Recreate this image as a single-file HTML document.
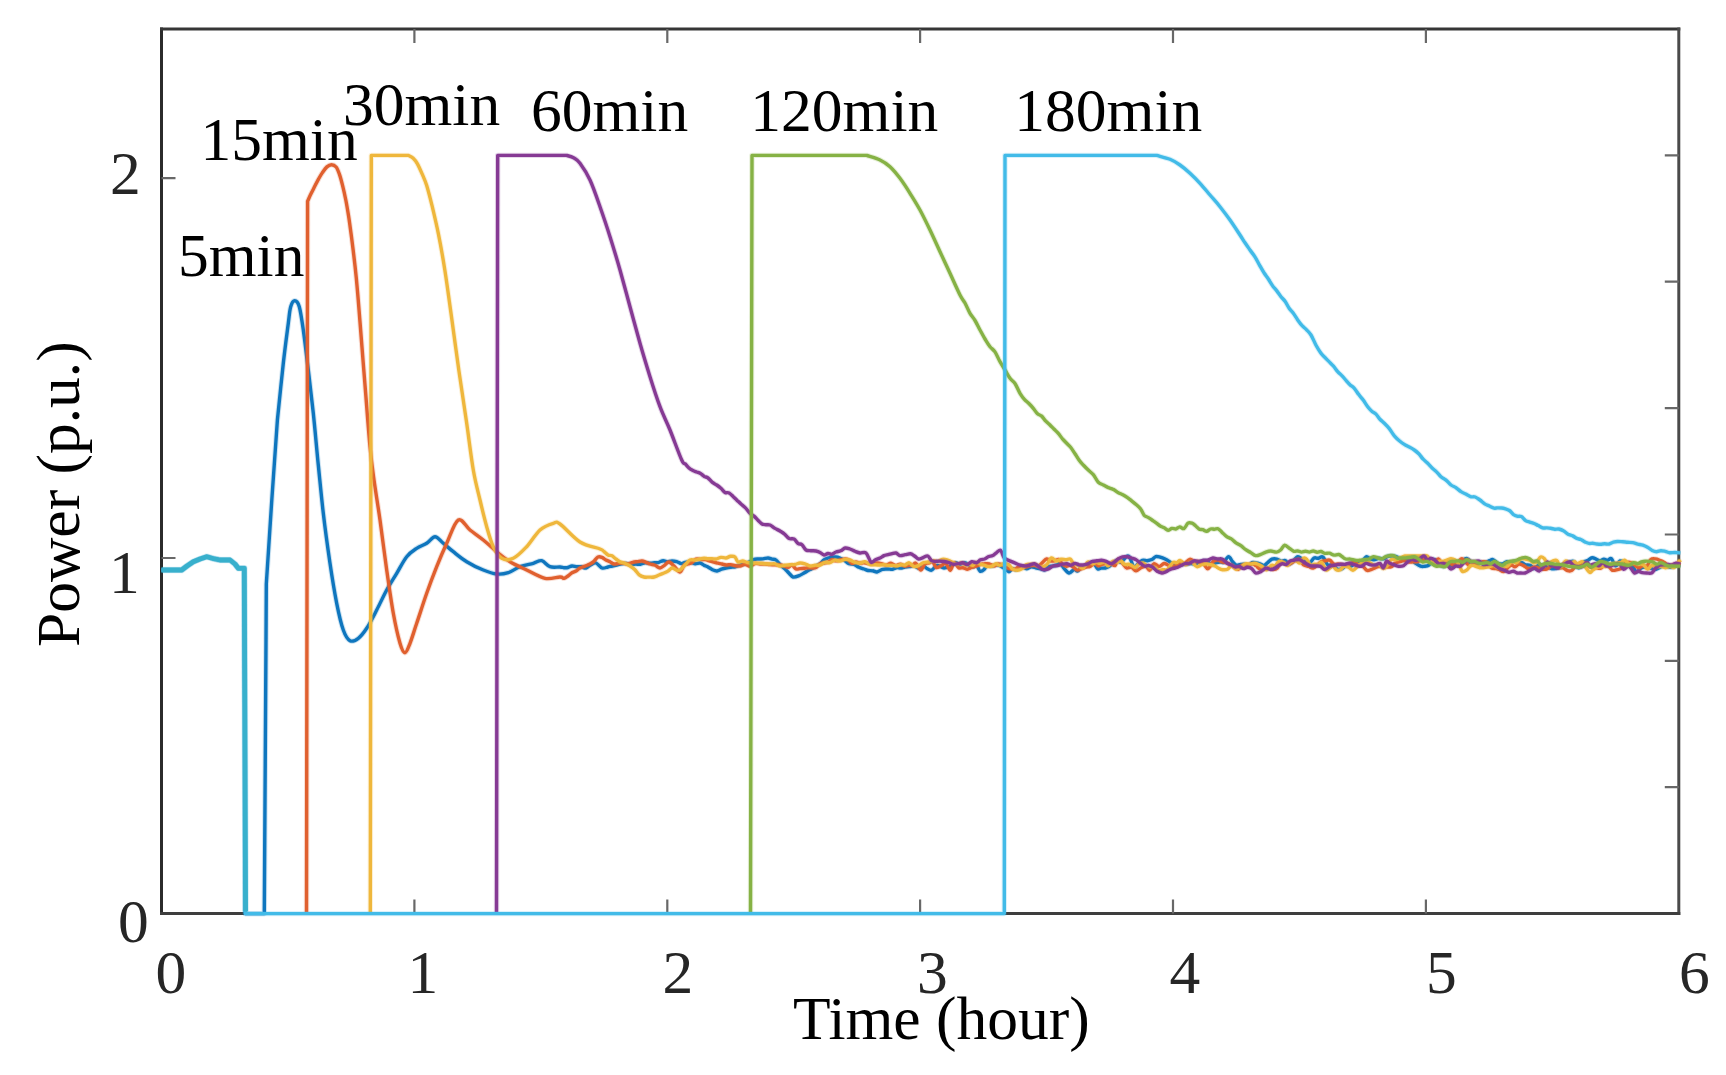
<!DOCTYPE html>
<html lang="en"><head><meta charset="utf-8"><title>Power (p.u.) vs Time (hour)</title>
<style>html,body{margin:0;padding:0;background:#fff;overflow:hidden}svg{display:block}text{font-family:"Liberation Serif",serif;font-size:61.5px}.tk{fill:#262626}.an{fill:#000}</style></head><body>
<svg width="1726" height="1075" viewBox="0 0 1726 1075">
<rect width="1726" height="1075" fill="#fff"/>
<path d="M161.5 27.5 V915.1" stroke="#2b2b2b" stroke-width="3" fill="none"/>
<path d="M160.0 29.0 H1680.3" stroke="#363636" stroke-width="3" fill="none"/>
<path d="M1678.8 27.5 V915.1" stroke="#4a4a4a" stroke-width="3" fill="none"/>
<path d="M160.0 913.6 H1680.3" stroke="#3e3e3e" stroke-width="3" fill="none"/>
<path d="M414.4 913.6 v-14 M414.4 29.0 v14 M667.3 913.6 v-14 M667.3 29.0 v14 M920.1 913.6 v-14 M920.1 29.0 v14 M1173.0 913.6 v-14 M1173.0 29.0 v14 M1425.9 913.6 v-14 M1425.9 29.0 v14 M1678.8 787.2 h-14 M1678.8 660.9 h-14 M1678.8 534.5 h-14 M1678.8 408.1 h-14 M1678.8 281.7 h-14 M1678.8 155.4 h-14 M161.5 558 h14 M161.5 178.2 h14" fill="none" stroke="#686868" stroke-width="2.2"/>
<g fill="none" stroke-linejoin="round">
<g stroke="#0f76be"><defs><path id="c1" d="M161.5 570.0 L181.7 570.0 L187.0 566.0 L193.3 561.7 L200.0 559.0 L206.7 556.7 L213.0 558.5 L220.0 560.0 L230.0 560.0 L235.0 564.0 L238.3 568.3 L244.3 568.3 L245.3 913.6 L264.3 913.6 L266.0 640.0 L266.3 584.0 L271.8 500.0 L277.4 420.0 C278.4 410.6 281.5 379.4 283.3 363.3 C285.1 347.2 287.1 332.7 288.3 323.3 C289.5 313.9 289.6 310.5 290.7 306.7 C291.8 302.9 293.3 300.7 294.7 300.7 C296.1 300.7 297.9 301.8 299.3 306.7 C300.7 311.6 301.8 319.4 303.3 330.0 C304.8 340.6 306.6 356.1 308.3 370.0 C310.0 383.9 311.6 397.5 313.3 413.3 C315.0 429.1 316.6 448.3 318.3 465.0 C320.0 481.7 321.4 496.9 323.3 513.3 C325.2 529.7 327.8 548.3 330.0 563.3 C332.2 578.3 334.5 592.2 336.7 603.3 C338.9 614.4 341.1 623.8 343.3 630.0 C345.5 636.2 347.5 639.3 350.0 640.7 C352.5 642.1 355.5 640.4 358.3 638.3 C361.1 636.2 363.6 633.0 366.7 628.3 C369.8 623.6 373.4 616.4 376.7 610.0 C380.0 603.6 383.4 596.1 386.7 590.0 C390.0 583.9 393.4 578.8 396.7 573.3 C400.0 567.8 403.4 560.9 406.7 556.7 C410.0 552.5 413.4 550.5 416.7 548.3 C420.0 546.1 423.6 545.2 426.7 543.3 C429.8 541.4 432.2 536.7 435.0 536.7 C437.8 536.7 440.2 540.8 443.3 543.3 C446.4 545.8 449.4 548.6 453.3 551.7 C457.2 554.8 461.7 558.7 466.7 561.7 C471.7 564.8 478.3 568.0 483.3 570.0 C488.3 572.0 492.5 573.5 496.7 574.0 C500.9 574.5 504.4 573.9 508.3 572.7 C512.2 571.5 515.8 568.3 520.0 566.7 C524.2 565.1 529.7 564.3 533.3 563.3 C536.9 562.3 538.9 560.1 541.7 560.7 C544.5 561.3 547.0 565.7 550.0 566.7 C553.0 567.8 557.7 566.8 560.0 567.0 C562.3 567.2 562.7 567.6 564.0 567.7 C565.3 567.8 566.7 567.8 568.0 567.5 C569.3 567.2 570.5 566.1 572.0 566.0 C573.5 565.9 575.2 566.6 576.7 566.7 C578.2 566.8 579.8 566.5 581.3 566.7 C582.8 566.9 584.4 568.4 586.0 568.0 C587.6 567.6 589.3 565.4 591.0 564.6 C592.7 563.8 594.2 562.4 596.0 563.0 C597.8 563.6 600.0 567.3 602.0 568.0 C604.0 568.7 606.3 567.3 608.0 567.0 C609.7 566.7 610.9 566.3 612.4 566.0 C613.9 565.7 615.2 565.4 616.7 565.0 C618.2 564.6 619.9 564.2 621.5 563.9 C623.1 563.6 624.6 563.3 626.2 563.4 C627.8 563.5 629.4 564.3 631.0 564.4 C632.6 564.5 634.1 564.1 635.7 564.1 C637.3 564.1 638.9 564.4 640.5 564.2 C642.1 564.0 643.6 562.9 645.2 562.8 C646.8 562.6 648.5 563.3 650.0 563.3 C651.5 563.3 652.9 563.0 654.4 562.8 C655.9 562.6 657.3 562.6 658.8 562.3 C660.3 561.9 661.7 560.8 663.2 560.7 C664.7 560.6 666.1 561.9 667.6 561.9 C669.1 561.9 670.5 561.0 672.0 561.0 C673.5 561.0 675.2 561.2 676.7 561.6 C678.2 562.0 679.8 563.5 681.3 563.6 C682.8 563.7 684.4 562.4 686.0 562.2 C687.6 562.0 689.2 562.0 690.7 562.2 C692.2 562.5 693.8 563.6 695.3 563.7 C696.8 563.8 698.5 562.8 700.0 563.0 C701.5 563.2 702.7 564.5 704.0 565.2 C705.3 565.9 706.6 566.2 708.0 567.0 C709.4 567.8 711.0 569.0 712.5 569.7 C714.0 570.4 715.5 571.1 717.0 571.0 C718.5 570.9 720.0 569.7 721.5 569.2 C723.0 568.7 724.5 568.3 726.0 568.0 C727.5 567.7 729.2 567.4 730.7 567.2 C732.2 567.0 733.8 567.2 735.3 566.8 C736.8 566.4 738.5 565.5 740.0 565.0 C741.5 564.5 743.0 564.6 744.5 564.1 C746.0 563.6 747.5 562.9 749.0 562.1 C750.5 561.4 752.0 560.1 753.5 559.6 C755.0 559.1 756.4 559.1 758.0 559.0 C759.6 558.9 761.3 559.1 763.0 558.9 C764.7 558.7 766.5 558.0 768.0 558.0 C769.5 558.0 770.7 558.8 772.0 559.1 C773.3 559.4 774.5 558.9 776.0 560.0 C777.5 561.1 779.3 563.9 781.0 565.6 C782.7 567.3 784.6 568.6 786.0 570.0 C787.4 571.4 788.3 572.5 789.5 573.7 C790.7 574.9 791.5 576.6 793.0 577.0 C794.5 577.4 796.7 576.6 798.5 575.9 C800.3 575.2 802.4 573.9 804.0 573.0 C805.6 572.1 806.7 571.4 808.0 570.6 C809.3 569.9 810.7 569.3 812.0 568.5 C813.3 567.7 814.7 566.8 816.0 566.0 C817.3 565.2 818.7 564.9 820.0 563.9 C821.3 562.9 822.7 560.8 824.0 559.8 C825.3 558.8 826.7 558.4 828.0 558.0 C829.3 557.6 830.7 557.4 832.0 557.2 C833.3 557.0 834.7 556.9 836.0 557.0 C837.3 557.1 838.7 557.6 840.0 558.1 C841.3 558.6 842.5 559.0 844.0 560.0 C845.5 561.0 847.3 563.1 849.0 563.8 C850.7 564.5 852.3 563.8 854.0 564.4 C855.7 565.0 857.3 566.5 859.0 567.3 C860.7 568.1 862.5 568.5 864.0 569.0 C865.5 569.5 866.8 570.2 868.3 570.5 C869.8 570.8 871.2 570.5 872.7 570.8 C874.2 571.0 875.4 572.2 877.0 572.0 C878.6 571.8 880.7 569.8 882.5 569.3 C884.3 568.8 886.4 569.0 888.0 569.0 C889.6 569.0 890.8 569.5 892.2 569.3 C893.6 569.1 895.1 567.9 896.5 567.7 C897.9 567.5 899.4 568.2 900.8 568.1 C902.2 568.0 903.6 567.2 905.0 567.0 C906.4 566.8 907.7 566.8 909.2 566.6 C910.8 566.4 912.7 565.6 914.3 565.9 C915.9 566.2 917.2 568.2 918.7 568.2 C920.2 568.2 921.7 565.8 923.1 565.8 C924.5 565.8 925.5 567.7 926.9 568.4 C928.3 569.1 929.9 570.7 931.5 570.2 C933.1 569.7 935.2 566.1 936.7 565.5 C938.2 564.9 939.1 565.9 940.2 566.3 C941.3 566.7 942.4 567.7 943.5 567.9 C944.6 568.1 945.4 567.7 946.7 567.3 C948.1 566.9 950.1 566.3 951.6 565.5 C953.1 564.7 954.5 562.8 955.8 562.6 C957.1 562.4 958.0 564.5 959.5 564.5 C961.0 564.5 963.1 562.7 964.5 562.7 C965.9 562.7 966.7 563.7 968.1 564.4 C969.5 565.1 971.3 566.6 972.8 566.8 C974.2 567.0 975.6 565.0 976.8 565.7 C978.0 566.4 978.8 570.6 980.0 571.2 C981.2 571.8 982.9 570.6 984.1 569.5 C985.3 568.4 986.2 565.1 987.4 564.6 C988.6 564.1 989.6 566.3 991.1 566.3 C992.6 566.3 994.8 564.9 996.3 564.8 C997.8 564.7 998.6 565.1 1000.0 565.7 C1001.4 566.4 1003.3 567.7 1004.8 568.7 C1006.3 569.7 1007.6 571.8 1008.9 571.8 C1010.1 571.8 1011.1 569.1 1012.3 568.7 C1013.5 568.4 1014.8 570.1 1016.3 569.7 C1017.8 569.3 1019.8 566.7 1021.5 566.5 C1023.2 566.3 1024.8 568.7 1026.5 568.7 C1028.2 568.7 1029.8 566.8 1031.5 566.7 C1033.2 566.6 1035.0 567.8 1036.7 568.2 C1038.4 568.6 1040.2 568.7 1041.5 569.0 C1042.8 569.3 1043.6 570.4 1044.8 570.0 C1046.0 569.6 1047.1 567.4 1048.4 566.8 C1049.7 566.1 1051.1 566.4 1052.5 566.1 C1053.9 565.8 1055.6 565.4 1056.9 564.9 C1058.2 564.4 1059.2 562.7 1060.4 563.3 C1061.6 563.9 1062.5 566.7 1064.0 568.3 C1065.5 569.9 1067.5 572.8 1069.2 573.0 C1070.9 573.2 1072.8 569.7 1074.2 569.4 C1075.6 569.1 1076.3 571.3 1077.5 571.0 C1078.7 570.7 1079.8 568.5 1081.2 567.6 C1082.6 566.7 1084.7 566.2 1086.1 565.8 C1087.5 565.3 1088.4 565.4 1089.6 564.9 C1090.8 564.4 1091.8 562.0 1093.2 562.6 C1094.6 563.2 1096.4 567.9 1097.7 568.8 C1099.0 569.7 1099.9 568.2 1101.2 568.1 C1102.5 568.0 1104.0 568.3 1105.3 568.0 C1106.6 567.7 1107.9 567.3 1109.2 566.4 C1110.5 565.5 1111.8 563.5 1113.2 562.5 C1114.6 561.5 1116.4 560.3 1117.7 560.3 C1119.0 560.2 1119.7 562.8 1121.1 562.2 C1122.5 561.6 1124.8 557.7 1126.2 556.8 C1127.6 555.9 1128.1 555.2 1129.4 557.0 C1130.7 558.8 1132.8 566.2 1134.1 567.5 C1135.4 568.8 1136.0 565.8 1137.4 564.6 C1138.8 563.4 1140.8 561.0 1142.4 560.4 C1144.0 559.8 1145.6 560.8 1147.2 560.7 C1148.8 560.6 1150.4 560.3 1151.8 559.6 C1153.2 558.9 1154.4 557.0 1155.8 556.6 C1157.2 556.2 1158.7 556.8 1160.2 557.2 C1161.7 557.6 1163.1 558.1 1164.6 558.8 C1166.1 559.5 1167.6 560.3 1169.1 561.3 C1170.6 562.3 1172.2 564.0 1173.7 564.7 C1175.2 565.4 1176.8 565.6 1178.1 565.6 C1179.4 565.6 1180.1 564.7 1181.4 564.5 C1182.7 564.3 1184.4 564.4 1185.9 564.3 C1187.4 564.1 1188.9 563.7 1190.5 563.6 C1192.1 563.5 1194.1 564.1 1195.6 563.9 C1197.1 563.7 1198.1 562.7 1199.3 562.2 C1200.5 561.7 1201.5 561.3 1202.8 561.1 C1204.1 560.9 1205.5 560.3 1206.9 560.9 C1208.4 561.5 1209.9 564.4 1211.5 564.7 C1213.1 565.0 1214.8 563.2 1216.3 562.7 C1217.8 562.2 1219.1 562.1 1220.3 562.0 C1221.5 561.9 1222.3 563.1 1223.7 562.2 C1225.1 561.3 1227.1 556.7 1228.6 556.6 C1230.0 556.5 1231.2 560.1 1232.4 561.5 C1233.7 562.9 1234.7 564.5 1236.1 565.0 C1237.5 565.5 1239.0 564.5 1240.6 564.4 C1242.2 564.3 1244.1 564.1 1245.5 564.4 C1246.9 564.7 1247.7 566.6 1248.8 566.3 C1249.9 566.0 1250.8 563.2 1252.0 562.6 C1253.2 562.0 1254.6 562.7 1255.8 562.9 C1257.0 563.1 1257.8 563.2 1259.2 563.6 C1260.6 564.0 1262.7 565.5 1264.1 565.4 C1265.5 565.3 1266.1 563.9 1267.4 562.9 C1268.7 561.9 1270.3 559.8 1271.9 559.2 C1273.5 558.6 1275.5 558.8 1277.0 559.1 C1278.5 559.4 1279.8 560.9 1281.2 561.1 C1282.6 561.3 1284.0 560.0 1285.3 560.5 C1286.6 561.0 1287.7 564.3 1289.0 564.4 C1290.3 564.5 1291.9 562.2 1293.3 560.9 C1294.7 559.6 1296.1 557.2 1297.3 556.7 C1298.5 556.2 1299.5 557.4 1300.6 558.0 C1301.7 558.6 1302.6 559.5 1304.0 560.4 C1305.4 561.3 1307.4 563.7 1309.1 563.3 C1310.8 562.9 1312.6 558.8 1314.1 558.0 C1315.6 557.2 1316.7 558.5 1318.2 558.3 C1319.7 558.1 1321.4 555.9 1322.9 557.0 C1324.5 558.1 1325.9 563.4 1327.5 564.7 C1329.1 566.0 1331.0 564.0 1332.7 564.7 C1334.4 565.5 1335.9 568.6 1337.5 569.2 C1339.1 569.8 1341.0 569.1 1342.5 568.4 C1344.0 567.7 1345.2 565.4 1346.6 565.0 C1348.0 564.6 1349.5 566.3 1350.7 566.2 C1351.9 566.1 1352.8 564.7 1354.0 564.2 C1355.2 563.7 1356.7 563.3 1357.9 563.0 C1359.1 562.7 1359.9 563.4 1361.3 562.4 C1362.7 561.4 1364.7 557.5 1366.2 556.9 C1367.7 556.3 1369.1 558.4 1370.4 558.9 C1371.7 559.4 1372.6 559.9 1374.0 559.8 C1375.4 559.7 1377.1 558.5 1378.7 558.3 C1380.3 558.1 1382.1 559.1 1383.6 558.8 C1385.1 558.5 1386.3 556.8 1387.6 556.3 C1388.9 555.8 1389.9 556.0 1391.2 556.0 C1392.5 556.0 1394.0 556.0 1395.4 556.4 C1396.8 556.8 1398.5 557.6 1399.7 558.2 C1401.0 558.8 1401.7 559.9 1402.9 559.9 C1404.1 559.9 1405.5 558.5 1406.9 558.4 C1408.3 558.3 1409.7 558.6 1411.1 559.4 C1412.5 560.2 1413.8 562.1 1415.4 563.2 C1417.0 564.3 1419.1 565.6 1420.5 566.1 C1421.9 566.6 1422.5 566.5 1423.9 566.4 C1425.3 566.2 1427.5 566.3 1428.9 565.2 C1430.3 564.1 1431.3 560.7 1432.5 559.9 C1433.7 559.1 1434.7 559.4 1435.9 560.2 C1437.1 561.0 1438.3 563.8 1439.5 564.8 C1440.7 565.8 1442.1 566.6 1443.3 566.5 C1444.5 566.4 1445.4 564.1 1446.7 563.9 C1448.0 563.7 1449.5 565.0 1450.9 565.2 C1452.3 565.4 1453.7 565.2 1455.1 565.0 C1456.5 564.8 1457.9 564.5 1459.2 563.7 C1460.5 562.9 1461.4 561.2 1462.7 560.3 C1464.0 559.4 1465.5 557.9 1467.0 558.5 C1468.5 559.1 1470.3 563.3 1471.9 564.0 C1473.5 564.7 1475.3 563.1 1476.8 562.8 C1478.2 562.5 1479.1 562.5 1480.6 562.4 C1482.1 562.3 1484.4 562.4 1485.9 562.1 C1487.4 561.8 1488.3 561.1 1489.5 560.7 C1490.7 560.3 1491.5 559.2 1492.9 559.6 C1494.3 560.0 1496.1 562.5 1497.7 563.2 C1499.3 563.9 1500.8 564.2 1502.3 564.0 C1503.8 563.8 1505.5 562.0 1506.8 561.7 C1508.1 561.4 1508.9 562.1 1510.2 562.0 C1511.5 561.9 1513.2 561.1 1514.4 561.3 C1515.7 561.4 1516.4 562.7 1517.7 562.9 C1519.0 563.1 1520.7 562.3 1522.0 562.6 C1523.3 562.9 1524.1 564.3 1525.5 564.8 C1526.9 565.2 1529.0 564.7 1530.4 565.3 C1531.8 565.9 1532.5 568.5 1533.8 568.6 C1535.0 568.7 1536.5 566.2 1537.9 565.6 C1539.3 565.0 1540.6 564.8 1542.0 564.9 C1543.4 565.0 1544.8 565.5 1546.4 566.1 C1548.0 566.7 1549.8 568.3 1551.4 568.7 C1553.0 569.1 1554.7 568.7 1556.1 568.5 C1557.5 568.3 1558.2 568.4 1559.6 567.5 C1561.0 566.6 1562.9 564.3 1564.6 563.4 C1566.2 562.5 1568.0 562.2 1569.5 561.9 C1571.0 561.6 1572.4 560.5 1573.9 561.5 C1575.5 562.5 1577.2 567.7 1578.8 567.8 C1580.4 567.9 1582.0 563.5 1583.5 562.3 C1585.0 561.1 1586.1 561.4 1587.5 560.6 C1588.9 559.9 1590.7 558.0 1592.1 557.8 C1593.5 557.5 1594.8 558.6 1596.1 559.1 C1597.4 559.6 1598.7 561.0 1600.0 561.0 C1601.3 561.0 1602.7 559.2 1603.9 559.1 C1605.2 559.0 1606.2 560.3 1607.5 560.2 C1608.8 560.1 1610.1 557.8 1611.4 558.7 C1612.8 559.7 1614.1 565.5 1615.6 565.9 C1617.0 566.3 1618.5 561.4 1620.1 560.9 C1621.7 560.4 1623.7 562.0 1625.4 562.8 C1627.1 563.6 1628.8 564.9 1630.1 565.7 C1631.4 566.5 1632.2 566.6 1633.3 567.6 C1634.4 568.6 1635.4 571.9 1636.7 571.9 C1638.0 571.9 1639.6 568.7 1641.0 567.9 C1642.4 567.1 1643.8 567.0 1645.3 567.0 C1646.8 567.0 1648.6 567.7 1650.2 568.1 C1651.8 568.5 1653.5 569.5 1654.9 569.5 C1656.3 569.5 1657.1 568.6 1658.4 568.1 C1659.7 567.6 1661.0 566.6 1662.6 566.4 C1664.1 566.2 1666.1 566.6 1667.7 566.8 C1669.3 566.9 1670.6 567.6 1672.1 567.3 C1673.6 567.0 1675.3 565.6 1676.7 565.2 C1678.1 564.9 1679.8 565.2 1680.4 565.2"/></defs><use href="#c1" stroke-width="5.4" stroke-opacity="0.2"/><use href="#c1" stroke-width="3.4"/></g>
<g stroke="#e0602f"><defs><path id="c2" d="M306.5 913.6 L307.6 201.3 C308.1 200.2 309.4 196.9 310.6 194.5 C311.8 192.1 313.3 189.2 314.6 186.6 C315.9 184.0 317.2 181.4 318.5 179.1 C319.8 176.8 321.0 174.6 322.4 172.6 C323.8 170.6 325.4 168.2 326.9 166.9 C328.4 165.6 330.0 164.8 331.5 164.8 C333.0 164.8 334.8 165.5 336.1 167.0 C337.4 168.5 338.2 170.8 339.3 173.9 C340.4 177.0 341.5 181.2 342.6 185.6 C343.7 189.9 344.8 195.0 345.8 200.0 C346.8 205.0 347.6 209.9 348.5 215.6 C349.4 221.2 350.2 227.4 351.1 233.9 C352.0 240.4 352.8 247.3 353.7 254.7 C354.6 262.1 355.2 267.0 356.3 278.2 C357.4 289.4 358.6 304.2 360.0 322.0 C361.4 339.8 363.3 364.2 365.0 385.0 C366.7 405.8 368.5 430.9 370.0 446.7 C371.5 462.5 372.3 467.8 374.0 480.0 C375.7 492.2 377.9 505.0 380.0 520.0 C382.1 535.0 384.5 554.5 386.7 570.0 C388.9 585.5 391.1 601.1 393.3 613.3 C395.5 625.5 398.1 636.7 400.0 643.3 C401.9 649.9 403.3 652.7 405.0 652.7 C406.7 652.7 408.1 648.2 410.0 643.3 C411.9 638.4 413.9 631.6 416.7 623.3 C419.5 615.0 423.4 602.7 426.7 593.3 C430.0 583.9 433.4 575.0 436.7 566.7 C440.0 558.4 443.1 551.1 446.7 543.3 C450.3 535.5 454.4 522.2 458.3 520.0 C462.2 517.8 465.8 526.7 470.0 530.0 C474.2 533.3 478.9 536.4 483.3 540.0 C487.8 543.6 492.2 548.1 496.7 551.7 C501.1 555.3 505.0 558.7 510.0 561.7 C515.0 564.8 520.9 567.2 526.7 570.0 C532.5 572.8 539.5 577.1 545.0 578.3 C550.5 579.5 556.8 577.0 560.0 577.0 C563.2 577.0 562.7 578.6 564.0 578.4 C565.3 578.2 566.7 576.9 568.0 576.0 C569.3 575.1 570.7 573.6 572.0 572.8 C573.3 572.0 574.7 571.8 576.0 571.0 C577.3 570.2 578.5 568.8 580.0 568.0 C581.5 567.2 583.3 566.8 585.0 566.1 C586.7 565.4 588.5 564.8 590.0 564.0 C591.5 563.2 592.7 562.4 594.0 561.2 C595.3 560.0 596.7 557.6 598.0 557.0 C599.3 556.4 600.7 556.9 602.0 557.4 C603.3 557.9 604.7 559.3 606.0 560.0 C607.3 560.7 608.7 561.0 610.0 561.7 C611.3 562.4 612.5 563.7 614.0 564.0 C615.5 564.3 617.2 563.5 618.7 563.4 C620.2 563.2 621.8 563.0 623.3 563.1 C624.8 563.2 626.4 564.1 628.0 564.0 C629.6 563.9 631.2 562.7 632.7 562.3 C634.2 561.9 635.8 561.8 637.3 561.6 C638.8 561.4 640.5 560.9 642.0 561.0 C643.5 561.1 644.7 561.8 646.0 562.3 C647.3 562.8 648.5 563.5 650.0 564.0 C651.5 564.5 653.3 564.6 655.0 565.3 C656.7 566.0 658.4 568.0 660.0 568.0 C661.6 568.0 663.0 566.3 664.5 565.3 C666.0 564.3 667.3 561.8 669.0 562.0 C670.7 562.2 672.7 564.9 674.5 566.6 C676.3 568.3 678.4 572.2 680.0 572.0 C681.6 571.8 682.7 566.7 684.0 565.4 C685.3 564.1 686.7 564.5 688.0 564.0 C689.3 563.5 690.7 563.3 692.0 562.5 C693.3 561.7 694.5 559.5 696.0 559.0 C697.5 558.5 699.2 559.3 700.7 559.4 C702.2 559.5 703.8 559.4 705.3 559.7 C706.8 560.0 708.5 560.6 710.0 561.0 C711.5 561.4 712.7 561.8 714.0 562.2 C715.3 562.6 716.7 562.9 718.0 563.2 C719.3 563.5 720.7 563.7 722.0 564.0 C723.3 564.3 724.5 564.9 726.0 565.0 C727.5 565.1 729.2 564.5 730.7 564.6 C732.2 564.7 733.8 565.6 735.3 565.8 C736.8 566.0 738.4 566.2 740.0 566.0 C741.6 565.8 743.3 564.3 745.0 564.3 C746.7 564.3 748.3 566.3 750.0 566.2 C751.7 566.1 753.3 563.9 755.0 563.5 C756.7 563.1 758.3 563.9 760.0 564.0 C761.7 564.1 763.3 564.0 765.0 564.1 C766.7 564.2 768.3 564.4 770.0 564.5 C771.7 564.6 773.3 564.8 775.0 564.9 C776.7 565.0 778.5 564.9 780.0 565.0 C781.5 565.1 782.7 565.4 784.0 565.8 C785.3 566.2 786.7 567.5 788.0 567.4 C789.3 567.3 790.7 564.8 792.0 565.1 C793.3 565.4 794.7 568.4 796.0 569.0 C797.3 569.6 798.7 568.7 800.0 568.6 C801.3 568.5 802.7 568.4 804.0 568.3 C805.3 568.2 806.7 567.8 808.0 567.8 C809.3 567.8 810.7 568.0 812.0 568.0 C813.3 568.0 814.7 568.2 816.0 567.5 C817.3 566.8 818.7 564.5 820.0 563.8 C821.3 563.0 822.7 563.3 824.0 563.0 C825.3 562.7 826.7 562.6 828.0 562.1 C829.3 561.6 830.7 560.0 832.0 559.8 C833.3 559.6 834.7 560.9 836.0 560.9 C837.3 560.9 838.7 560.3 840.0 560.0 C841.3 559.7 842.7 559.2 844.0 559.1 C845.3 559.0 846.7 558.9 848.0 559.6 C849.3 560.3 850.7 562.9 852.0 563.3 C853.3 563.7 854.7 562.0 856.0 562.0 C857.3 562.0 858.7 562.9 860.0 563.0 C861.3 563.1 862.7 562.8 864.0 562.9 C865.3 563.0 866.7 563.3 868.0 563.5 C869.3 563.7 870.5 564.1 872.0 564.0 C873.5 563.9 875.1 563.1 876.7 563.0 C878.3 562.9 879.8 563.2 881.4 563.6 C883.0 564.0 884.5 565.2 886.1 565.1 C887.7 565.0 889.3 563.2 890.9 563.3 C892.5 563.4 894.0 565.4 895.6 565.5 C897.2 565.6 898.7 564.1 900.3 564.2 C901.9 564.3 903.5 565.8 905.0 566.0 C906.5 566.2 908.0 565.5 909.2 565.4 C910.4 565.3 911.3 565.8 912.4 565.4 C913.5 565.0 914.4 562.4 915.8 563.2 C917.2 564.0 919.3 570.0 920.8 570.1 C922.3 570.2 923.2 565.3 924.6 564.1 C926.0 562.9 927.9 563.3 929.2 562.9 C930.5 562.5 931.3 560.8 932.5 561.6 C933.7 562.4 934.9 566.8 936.3 567.5 C937.7 568.2 939.1 566.5 940.7 565.9 C942.3 565.2 944.2 562.9 945.8 563.6 C947.4 564.3 948.9 570.4 950.3 570.3 C951.7 570.1 952.7 563.1 954.1 562.7 C955.5 562.3 957.1 566.9 958.6 567.7 C960.1 568.6 961.6 567.5 963.1 567.8 C964.6 568.0 966.0 569.2 967.4 569.2 C968.8 569.2 970.1 568.0 971.6 567.5 C973.1 567.0 974.8 566.7 976.2 566.2 C977.6 565.7 978.7 565.1 980.1 564.7 C981.5 564.3 983.0 563.9 984.5 563.8 C986.0 563.6 987.5 563.4 989.1 563.8 C990.7 564.2 992.8 566.0 994.3 566.0 C995.8 566.0 996.9 564.1 998.3 563.9 C999.7 563.7 1001.0 564.2 1002.5 564.9 C1004.0 565.6 1006.0 567.3 1007.5 568.0 C1009.0 568.7 1010.1 568.9 1011.4 569.1 C1012.6 569.3 1013.6 569.6 1015.0 569.1 C1016.4 568.6 1018.2 566.7 1019.8 566.4 C1021.4 566.1 1022.8 567.4 1024.4 567.3 C1026.0 567.2 1027.7 566.2 1029.3 565.9 C1030.9 565.6 1032.7 565.4 1034.2 565.4 C1035.8 565.4 1037.2 566.4 1038.6 565.9 C1040.0 565.4 1041.5 563.4 1042.8 562.2 C1044.1 561.1 1045.2 559.2 1046.6 559.0 C1048.0 558.8 1049.6 560.8 1051.1 561.1 C1052.5 561.4 1054.0 560.9 1055.3 560.6 C1056.6 560.3 1057.6 558.9 1058.8 559.5 C1060.0 560.1 1061.2 563.1 1062.5 564.2 C1063.8 565.3 1065.1 566.0 1066.4 566.2 C1067.7 566.4 1068.9 565.0 1070.1 565.2 C1071.3 565.4 1072.6 566.7 1073.8 567.5 C1075.0 568.3 1076.0 570.0 1077.4 570.1 C1078.9 570.2 1081.0 568.8 1082.5 568.3 C1084.0 567.8 1085.2 567.3 1086.4 567.0 C1087.7 566.7 1088.6 567.0 1090.0 566.4 C1091.4 565.8 1093.3 563.3 1094.7 563.2 C1096.1 563.1 1097.2 565.7 1098.4 565.9 C1099.6 566.1 1100.3 564.6 1101.7 564.3 C1103.1 563.9 1105.2 563.9 1106.7 563.8 C1108.2 563.7 1109.5 563.3 1110.9 563.6 C1112.3 563.9 1113.9 566.2 1115.1 565.5 C1116.3 564.8 1116.8 559.5 1118.2 559.3 C1119.6 559.1 1121.8 562.6 1123.2 564.1 C1124.6 565.6 1125.2 567.5 1126.6 568.0 C1128.0 568.5 1129.9 566.9 1131.5 567.4 C1133.1 567.9 1134.4 570.8 1136.0 570.9 C1137.6 571.0 1139.3 568.5 1141.0 567.8 C1142.7 567.0 1144.5 566.0 1145.9 566.4 C1147.4 566.8 1148.4 570.6 1149.7 570.2 C1151.0 569.8 1152.3 564.4 1153.9 563.8 C1155.5 563.2 1157.4 566.6 1159.1 566.6 C1160.8 566.6 1162.5 563.7 1164.1 563.5 C1165.7 563.3 1167.3 564.9 1168.6 565.4 C1169.9 565.9 1170.5 566.2 1171.8 566.2 C1173.0 566.2 1174.7 566.1 1176.1 565.6 C1177.5 565.1 1179.0 563.6 1180.4 563.2 C1181.8 562.8 1183.1 563.9 1184.7 563.3 C1186.3 562.6 1188.1 559.6 1189.8 559.3 C1191.5 559.0 1193.3 561.3 1194.7 561.7 C1196.1 562.1 1196.8 561.2 1198.2 561.5 C1199.6 561.8 1201.7 562.3 1203.3 563.5 C1204.9 564.7 1206.4 569.0 1208.0 568.7 C1209.6 568.4 1211.4 563.0 1213.1 561.5 C1214.8 560.0 1216.5 560.0 1217.9 560.0 C1219.3 560.0 1220.2 561.3 1221.7 561.8 C1223.2 562.3 1225.3 562.3 1226.8 562.8 C1228.3 563.3 1229.3 564.1 1230.6 564.9 C1231.9 565.6 1233.1 566.6 1234.4 567.3 C1235.7 568.0 1237.1 569.6 1238.4 569.3 C1239.7 569.0 1240.7 566.0 1242.2 565.3 C1243.7 564.6 1245.7 565.1 1247.4 564.9 C1249.1 564.6 1251.1 563.7 1252.5 563.8 C1253.9 563.9 1254.8 564.9 1256.0 565.7 C1257.2 566.5 1258.0 568.0 1259.4 568.6 C1260.8 569.2 1262.7 569.5 1264.3 569.4 C1265.9 569.2 1267.6 567.7 1269.1 567.7 C1270.5 567.7 1271.6 569.6 1273.0 569.6 C1274.4 569.6 1276.1 569.3 1277.4 568.0 C1278.7 566.7 1279.3 562.7 1280.6 562.0 C1281.9 561.3 1283.9 563.3 1285.2 563.7 C1286.5 564.1 1287.1 564.7 1288.3 564.5 C1289.5 564.3 1291.0 563.2 1292.4 562.4 C1293.8 561.6 1295.4 560.1 1296.6 559.7 C1297.8 559.3 1298.6 558.9 1299.8 559.8 C1301.0 560.7 1302.1 563.8 1303.6 564.9 C1305.1 566.0 1307.1 566.0 1308.7 566.5 C1310.3 567.0 1311.4 568.5 1313.0 568.1 C1314.6 567.7 1316.6 565.4 1318.1 564.3 C1319.6 563.2 1320.6 561.9 1321.8 561.3 C1323.0 560.7 1324.1 561.0 1325.4 560.8 C1326.7 560.6 1328.2 559.6 1329.7 560.2 C1331.2 560.8 1332.7 563.6 1334.1 564.2 C1335.5 564.8 1336.8 564.0 1338.0 564.0 C1339.2 564.0 1340.2 564.0 1341.6 564.3 C1343.0 564.6 1344.9 565.7 1346.3 565.6 C1347.7 565.5 1348.7 564.4 1350.1 563.8 C1351.5 563.2 1353.4 561.8 1354.7 562.0 C1356.0 562.2 1356.9 564.3 1358.1 564.8 C1359.3 565.3 1360.4 564.2 1361.8 565.1 C1363.2 566.0 1365.2 569.5 1366.7 570.3 C1368.2 571.0 1369.6 570.0 1370.9 569.6 C1372.2 569.2 1373.6 568.5 1374.8 568.0 C1376.0 567.5 1376.9 566.8 1378.1 566.5 C1379.3 566.2 1380.8 566.2 1382.2 566.3 C1383.6 566.4 1385.0 567.0 1386.6 567.0 C1388.1 567.0 1390.1 567.2 1391.5 566.6 C1392.9 566.0 1393.4 564.1 1394.8 563.3 C1396.2 562.5 1398.4 562.2 1399.9 561.7 C1401.4 561.2 1402.5 560.6 1404.0 560.6 C1405.5 560.6 1407.3 561.8 1408.8 562.0 C1410.2 562.2 1411.2 562.0 1412.7 561.9 C1414.2 561.8 1416.0 562.0 1417.7 561.6 C1419.4 561.2 1421.4 559.6 1422.8 559.4 C1424.2 559.2 1425.0 559.7 1426.3 560.2 C1427.6 560.7 1429.0 562.0 1430.4 562.2 C1431.8 562.4 1433.4 561.9 1434.8 561.4 C1436.2 560.9 1437.4 558.5 1438.6 559.0 C1439.8 559.5 1441.0 563.5 1442.1 564.1 C1443.2 564.7 1443.9 562.5 1445.3 562.4 C1446.7 562.2 1448.8 562.8 1450.2 563.2 C1451.6 563.7 1452.1 565.4 1453.4 565.1 C1454.7 564.9 1456.7 562.8 1458.1 561.7 C1459.5 560.7 1460.6 558.7 1461.9 558.8 C1463.2 558.9 1464.6 561.3 1465.9 562.4 C1467.2 563.5 1468.3 565.3 1469.5 565.6 C1470.7 565.9 1471.4 564.6 1472.8 564.4 C1474.2 564.2 1476.1 564.6 1477.8 564.2 C1479.5 563.8 1481.2 562.0 1482.9 561.8 C1484.6 561.6 1486.5 561.9 1487.9 562.9 C1489.3 563.9 1489.9 566.8 1491.3 567.8 C1492.7 568.8 1494.8 568.4 1496.2 568.7 C1497.6 569.0 1498.4 569.3 1499.6 569.8 C1500.8 570.3 1502.3 571.9 1503.6 571.6 C1504.9 571.3 1506.0 569.2 1507.3 568.1 C1508.6 567.0 1510.0 565.2 1511.3 565.0 C1512.6 564.8 1513.8 567.0 1515.0 566.9 C1516.2 566.8 1517.3 564.4 1518.7 564.1 C1520.1 563.9 1521.9 564.7 1523.3 565.4 C1524.7 566.1 1525.9 567.6 1527.1 568.1 C1528.3 568.6 1529.5 568.7 1530.7 568.5 C1531.9 568.3 1533.1 567.0 1534.3 566.9 C1535.5 566.8 1536.7 567.4 1538.0 567.8 C1539.3 568.2 1540.8 569.0 1542.3 569.2 C1543.8 569.4 1545.5 569.5 1547.1 568.9 C1548.7 568.3 1550.2 566.1 1551.7 565.5 C1553.2 564.9 1554.4 565.0 1555.8 565.4 C1557.2 565.8 1558.8 567.4 1560.1 567.8 C1561.3 568.2 1562.0 567.5 1563.3 568.0 C1564.5 568.5 1566.2 570.2 1567.6 570.6 C1569.0 571.0 1570.4 571.3 1571.8 570.4 C1573.2 569.5 1574.8 566.1 1576.2 565.2 C1577.6 564.3 1579.1 565.3 1580.4 564.9 C1581.7 564.5 1583.0 562.8 1584.2 562.9 C1585.4 563.0 1586.5 564.5 1587.6 565.2 C1588.7 566.0 1589.5 567.0 1590.9 567.4 C1592.3 567.8 1594.3 567.5 1595.9 567.6 C1597.5 567.7 1599.2 568.9 1600.7 568.2 C1602.2 567.6 1603.7 564.0 1605.1 563.7 C1606.5 563.4 1607.7 565.4 1608.9 566.5 C1610.1 567.6 1610.9 569.8 1612.3 570.3 C1613.7 570.8 1615.8 570.0 1617.5 569.6 C1619.2 569.2 1620.8 569.1 1622.2 568.0 C1623.7 566.9 1624.7 563.9 1626.2 563.0 C1627.7 562.1 1629.4 562.1 1631.0 562.6 C1632.6 563.1 1634.4 564.9 1635.7 565.8 C1637.0 566.7 1637.8 568.1 1639.1 568.0 C1640.3 567.9 1642.0 565.5 1643.2 565.2 C1644.5 565.0 1645.3 567.4 1646.6 566.5 C1647.9 565.6 1649.3 560.9 1650.8 559.6 C1652.3 558.3 1654.1 558.8 1655.6 558.9 C1657.1 559.0 1658.5 559.8 1659.9 560.4 C1661.4 561.0 1662.8 561.6 1664.3 562.5 C1665.8 563.4 1667.4 565.5 1669.0 565.8 C1670.6 566.1 1672.2 564.6 1673.7 564.3 C1675.2 564.0 1677.0 564.1 1678.1 564.2 C1679.2 564.4 1680.0 565.0 1680.4 565.2"/></defs><use href="#c2" stroke-width="5.4" stroke-opacity="0.2"/><use href="#c2" stroke-width="3.4"/></g>
<g stroke="#efb73c"><defs><path id="c3" d="M370.3 913.6 L371.3 155.4 L408.5 155.4 C409.3 155.9 411.7 156.8 413.2 158.2 C414.7 159.6 415.8 161.0 417.3 163.6 C418.8 166.2 420.5 170.2 422.1 173.9 C423.7 177.6 425.1 180.4 426.7 185.6 C428.3 190.8 429.9 197.1 431.9 205.2 C433.8 213.2 436.2 223.0 438.4 233.9 C440.6 244.8 442.8 257.2 444.9 270.4 C447.0 283.6 448.7 296.7 451.0 313.3 C453.3 329.9 456.2 351.7 458.8 370.0 C461.4 388.3 464.3 406.6 466.7 423.3 C469.1 440.0 471.1 457.2 473.3 470.0 C475.5 482.8 477.8 490.6 480.0 500.0 C482.2 509.4 484.5 518.9 486.7 526.7 C488.9 534.5 490.8 541.4 493.3 546.7 C495.8 552.0 498.4 556.4 501.7 558.3 C505.0 560.2 509.1 560.2 513.3 558.3 C517.5 556.4 522.2 551.4 526.7 546.7 C531.2 542.0 535.6 533.9 540.0 530.0 C544.4 526.1 550.0 524.3 553.3 523.3 C556.6 522.3 555.5 520.9 560.0 524.0 C564.5 527.1 573.3 537.8 580.0 542.0 C586.7 546.2 596.0 547.4 600.0 549.0 C604.0 550.6 602.7 550.6 604.0 551.6 C605.3 552.6 606.7 554.3 608.0 555.0 C609.3 555.7 610.7 555.1 612.0 555.8 C613.3 556.5 614.5 558.0 616.0 559.0 C617.5 560.0 619.2 561.4 620.7 562.1 C622.2 562.9 623.8 562.9 625.3 563.5 C626.8 564.1 628.4 565.0 630.0 566.0 C631.6 567.0 633.2 568.0 634.7 569.5 C636.2 571.0 637.8 573.6 639.3 574.9 C640.8 576.1 642.4 576.6 644.0 577.0 C645.6 577.4 647.3 577.1 649.0 577.1 C650.7 577.1 652.3 577.4 654.0 577.0 C655.7 576.6 657.3 575.7 659.0 575.0 C660.7 574.3 662.5 573.6 664.0 573.0 C665.5 572.4 666.7 571.9 668.0 571.1 C669.3 570.3 670.7 568.2 672.0 568.0 C673.3 567.8 674.7 569.6 676.0 569.9 C677.3 570.2 678.5 570.8 680.0 570.0 C681.5 569.2 683.3 566.7 685.0 565.0 C686.7 563.3 688.3 560.8 690.0 560.0 C691.7 559.2 693.3 560.2 695.0 560.0 C696.7 559.8 698.5 559.3 700.0 559.0 C701.5 558.7 702.7 558.2 704.0 558.2 C705.3 558.2 706.7 558.6 708.0 558.7 C709.3 558.8 710.7 558.6 712.0 558.6 C713.3 558.6 714.5 559.2 716.0 559.0 C717.5 558.8 719.3 557.6 721.0 557.4 C722.7 557.2 724.4 558.2 726.0 558.0 C727.6 557.8 729.0 556.5 730.5 556.3 C732.0 556.1 733.8 556.0 735.0 557.0 C736.2 558.0 736.7 561.3 738.0 562.0 C739.3 562.7 741.2 560.9 742.7 561.0 C744.2 561.1 745.8 562.2 747.3 562.5 C748.8 562.8 750.5 562.9 752.0 563.0 C753.5 563.1 755.0 563.1 756.5 563.1 C758.0 563.1 759.5 563.1 761.0 563.2 C762.5 563.3 764.0 563.7 765.5 563.8 C767.0 563.9 768.4 564.0 770.0 564.0 C771.6 564.0 773.3 563.6 775.0 563.9 C776.7 564.2 778.3 565.8 780.0 566.0 C781.7 566.2 783.3 565.4 785.0 565.2 C786.7 565.0 788.3 564.8 790.0 564.7 C791.7 564.6 793.3 564.7 795.0 564.4 C796.7 564.1 798.3 563.1 800.0 563.0 C801.7 562.9 803.3 563.3 805.0 563.8 C806.7 564.3 808.3 565.8 810.0 566.0 C811.7 566.2 813.3 565.4 815.0 565.2 C816.7 565.0 818.3 565.5 820.0 565.0 C821.7 564.5 823.3 562.8 825.0 562.4 C826.7 562.0 828.3 563.0 830.0 562.6 C831.7 562.2 833.3 560.5 835.0 560.2 C836.7 559.9 838.3 561.1 840.0 561.0 C841.7 560.9 843.3 559.6 845.0 559.4 C846.7 559.2 848.3 559.5 850.0 560.0 C851.7 560.5 853.3 561.9 855.0 562.4 C856.7 562.9 858.3 563.1 860.0 563.0 C861.7 562.9 863.3 561.4 865.0 561.7 C866.7 562.0 868.3 564.1 870.0 564.6 C871.7 565.1 873.3 564.7 875.0 564.8 C876.7 564.9 878.5 565.0 880.0 565.0 C881.5 565.0 882.8 564.7 884.2 564.8 C885.6 564.9 886.9 565.3 888.3 565.4 C889.7 565.5 891.1 565.3 892.5 565.4 C893.9 565.5 895.3 565.9 896.7 565.8 C898.1 565.7 899.4 564.9 900.8 564.8 C902.2 564.7 903.6 565.3 905.0 565.0 C906.4 564.7 907.7 562.5 909.2 562.8 C910.7 563.1 912.5 566.2 914.1 566.6 C915.8 567.0 917.5 565.9 919.1 565.2 C920.7 564.5 922.0 563.0 923.6 562.5 C925.2 562.0 927.1 562.3 928.8 562.0 C930.5 561.7 932.4 560.8 933.9 560.7 C935.4 560.6 936.3 561.6 937.7 561.4 C939.1 561.2 940.5 559.7 942.1 559.4 C943.7 559.1 945.5 559.4 947.1 559.8 C948.7 560.2 950.0 561.1 951.6 561.8 C953.2 562.5 955.2 564.0 956.9 564.2 C958.6 564.4 960.4 562.6 961.9 562.8 C963.4 563.0 964.5 565.0 965.7 565.2 C966.9 565.4 967.7 564.2 968.9 564.2 C970.1 564.2 971.7 565.6 972.9 565.3 C974.1 565.0 974.9 562.6 976.1 562.4 C977.4 562.2 979.1 563.8 980.4 564.2 C981.7 564.6 982.6 564.6 983.8 565.0 C985.0 565.4 986.1 566.3 987.5 566.5 C988.9 566.7 990.7 566.6 992.1 566.1 C993.5 565.6 994.7 563.8 996.0 563.7 C997.3 563.6 998.5 565.4 999.8 565.4 C1001.1 565.4 1002.2 563.9 1003.7 563.8 C1005.2 563.7 1007.2 563.8 1008.7 564.7 C1010.2 565.6 1011.3 568.2 1012.8 569.1 C1014.2 570.0 1015.9 570.3 1017.4 570.3 C1018.9 570.3 1020.3 569.8 1021.8 568.9 C1023.3 568.0 1024.8 565.5 1026.2 564.7 C1027.6 563.9 1028.8 564.3 1030.3 564.2 C1031.8 564.1 1033.9 563.8 1035.3 564.1 C1036.7 564.5 1037.3 565.8 1038.5 566.3 C1039.7 566.8 1040.9 567.2 1042.3 566.9 C1043.7 566.6 1045.4 565.9 1046.9 564.4 C1048.4 562.9 1049.8 558.5 1051.4 557.9 C1053.0 557.3 1054.6 560.8 1056.3 561.0 C1058.0 561.2 1059.8 559.5 1061.4 559.3 C1063.0 559.1 1064.3 559.7 1065.8 559.7 C1067.3 559.7 1068.9 558.4 1070.2 559.1 C1071.5 559.8 1072.3 562.7 1073.6 563.7 C1074.9 564.7 1076.3 564.5 1077.9 565.3 C1079.5 566.0 1081.4 568.8 1083.1 568.2 C1084.8 567.7 1086.2 562.8 1087.8 562.0 C1089.3 561.2 1091.0 563.6 1092.4 563.7 C1093.8 563.8 1095.2 562.5 1096.4 562.4 C1097.7 562.3 1098.5 563.4 1099.9 563.4 C1101.3 563.4 1103.3 561.8 1104.7 562.2 C1106.1 562.6 1106.8 566.0 1108.1 565.9 C1109.4 565.8 1111.2 562.0 1112.8 561.4 C1114.4 560.8 1116.2 562.3 1117.5 562.2 C1118.8 562.1 1119.5 560.5 1120.7 560.9 C1121.9 561.2 1123.2 563.7 1124.5 564.3 C1125.8 564.9 1127.2 564.1 1128.4 564.3 C1129.6 564.5 1130.8 565.1 1131.9 565.6 C1133.1 566.1 1134.2 567.7 1135.3 567.4 C1136.4 567.1 1137.5 564.8 1138.8 564.0 C1140.1 563.2 1141.7 562.7 1142.9 562.9 C1144.1 563.1 1144.9 564.4 1146.1 565.1 C1147.3 565.9 1148.5 567.0 1150.0 567.4 C1151.5 567.8 1153.4 566.8 1154.9 567.4 C1156.4 568.0 1157.6 570.3 1158.9 570.7 C1160.2 571.1 1161.0 569.9 1162.5 569.7 C1164.0 569.5 1166.0 570.5 1167.7 569.3 C1169.4 568.1 1171.4 563.6 1172.9 562.5 C1174.4 561.4 1175.5 562.9 1176.7 562.6 C1178.0 562.3 1179.0 560.2 1180.4 560.6 C1181.8 561.0 1183.9 564.2 1185.2 564.7 C1186.5 565.2 1187.3 563.7 1188.5 563.3 C1189.7 562.9 1190.7 561.6 1192.1 562.2 C1193.5 562.8 1195.2 566.3 1196.9 566.7 C1198.6 567.1 1200.4 565.0 1202.0 564.5 C1203.6 564.0 1205.1 563.8 1206.5 563.8 C1207.9 563.8 1209.1 564.3 1210.6 564.7 C1212.1 565.1 1214.1 565.7 1215.4 566.3 C1216.7 566.9 1217.4 567.6 1218.6 568.2 C1219.8 568.8 1221.2 569.5 1222.7 569.7 C1224.2 569.9 1226.0 569.9 1227.5 569.2 C1229.0 568.5 1230.3 565.6 1231.7 565.6 C1233.1 565.6 1234.5 569.0 1236.1 569.2 C1237.7 569.4 1239.8 567.8 1241.3 566.9 C1242.8 566.0 1243.8 564.3 1245.3 563.8 C1246.8 563.3 1249.0 564.2 1250.5 564.1 C1252.0 564.0 1253.0 563.2 1254.3 563.2 C1255.5 563.2 1256.8 563.7 1258.0 564.2 C1259.2 564.7 1260.3 565.4 1261.7 566.3 C1263.1 567.2 1264.9 569.9 1266.6 569.7 C1268.3 569.5 1270.2 566.0 1271.7 565.3 C1273.2 564.6 1274.1 566.3 1275.3 565.6 C1276.5 564.9 1277.5 561.8 1279.0 561.3 C1280.5 560.8 1282.7 562.1 1284.1 562.8 C1285.5 563.5 1286.1 565.8 1287.3 565.6 C1288.5 565.5 1289.6 562.7 1291.0 561.9 C1292.4 561.1 1294.0 560.4 1295.5 560.6 C1297.0 560.8 1298.7 563.4 1300.0 563.0 C1301.3 562.6 1302.3 558.9 1303.4 558.2 C1304.5 557.6 1305.4 557.9 1306.6 559.1 C1307.8 560.3 1309.2 564.4 1310.6 565.2 C1311.9 566.0 1313.4 564.2 1314.7 564.1 C1316.0 564.0 1317.2 565.0 1318.4 564.7 C1319.6 564.4 1320.3 561.5 1321.6 562.4 C1322.9 563.3 1324.8 568.9 1326.1 569.9 C1327.4 570.9 1328.2 568.9 1329.4 568.3 C1330.6 567.7 1331.8 566.0 1333.0 566.3 C1334.2 566.5 1335.2 569.2 1336.4 569.8 C1337.6 570.4 1339.0 570.4 1340.3 569.8 C1341.6 569.2 1342.7 566.8 1344.1 566.4 C1345.5 566.0 1347.0 566.6 1348.5 567.2 C1350.0 567.9 1351.3 570.5 1352.9 570.3 C1354.5 570.1 1356.6 566.9 1358.0 565.8 C1359.4 564.6 1360.3 563.9 1361.5 563.4 C1362.7 562.9 1363.7 562.9 1365.0 562.8 C1366.3 562.7 1368.0 562.2 1369.5 562.6 C1371.0 563.0 1372.5 564.8 1374.0 565.1 C1375.5 565.4 1377.0 563.9 1378.6 564.5 C1380.2 565.1 1382.0 568.4 1383.4 568.6 C1384.8 568.9 1385.6 567.5 1386.9 566.0 C1388.2 564.5 1389.7 560.6 1391.2 559.6 C1392.7 558.6 1394.5 560.0 1396.0 559.7 C1397.5 559.4 1399.0 558.3 1400.5 557.7 C1402.0 557.1 1403.6 556.3 1405.1 556.0 C1406.6 555.7 1408.2 556.0 1409.6 556.0 C1411.0 556.0 1412.0 556.0 1413.5 556.0 C1415.0 556.0 1416.7 556.0 1418.4 556.0 C1420.1 556.0 1422.0 556.0 1423.5 556.0 C1425.0 556.0 1425.9 555.2 1427.2 556.0 C1428.5 556.8 1429.6 559.8 1431.1 561.0 C1432.6 562.2 1434.8 563.3 1436.2 563.3 C1437.6 563.3 1438.4 561.5 1439.6 561.2 C1440.8 560.9 1442.0 561.5 1443.2 561.3 C1444.4 561.1 1445.5 560.5 1446.8 560.1 C1448.1 559.7 1449.6 558.7 1451.0 558.7 C1452.4 558.7 1453.8 559.2 1455.0 560.0 C1456.2 560.8 1457.3 561.8 1458.5 563.6 C1459.7 565.5 1460.8 570.0 1462.1 571.1 C1463.4 572.2 1465.1 571.2 1466.6 570.2 C1468.1 569.2 1469.8 565.8 1471.3 565.1 C1472.8 564.5 1474.3 565.9 1475.7 566.3 C1477.1 566.7 1478.2 567.5 1479.7 567.7 C1481.2 567.9 1483.2 567.8 1484.7 567.6 C1486.2 567.5 1487.0 567.1 1488.5 566.8 C1490.0 566.4 1492.0 565.4 1493.6 565.5 C1495.2 565.6 1496.3 567.5 1497.9 567.7 C1499.5 567.9 1501.3 566.9 1503.0 566.6 C1504.7 566.3 1506.3 566.6 1507.8 565.7 C1509.3 564.9 1510.3 562.0 1511.8 561.5 C1513.2 561.0 1515.0 563.2 1516.5 562.7 C1518.0 562.2 1519.5 559.2 1521.1 558.6 C1522.7 558.0 1524.6 559.0 1526.1 559.3 C1527.6 559.6 1528.7 559.6 1530.0 560.2 C1531.3 560.8 1532.6 562.6 1533.8 562.8 C1535.0 563.0 1536.2 562.5 1537.3 561.5 C1538.4 560.5 1539.4 557.5 1540.6 557.0 C1541.8 556.5 1543.0 557.4 1544.2 558.5 C1545.4 559.6 1546.5 563.4 1547.8 563.9 C1549.1 564.4 1550.7 561.8 1552.2 561.3 C1553.7 560.8 1555.5 559.7 1556.9 560.6 C1558.3 561.5 1559.1 566.8 1560.5 566.9 C1561.9 567.0 1563.8 561.6 1565.4 561.0 C1567.0 560.4 1568.7 562.9 1570.2 563.0 C1571.7 563.1 1573.1 561.7 1574.3 561.8 C1575.5 561.9 1576.1 563.6 1577.5 563.6 C1578.9 563.6 1581.1 561.1 1582.5 561.7 C1583.9 562.4 1584.6 565.7 1585.8 567.5 C1587.0 569.3 1588.7 572.0 1589.9 572.4 C1591.1 572.8 1591.8 570.6 1593.1 569.8 C1594.4 568.9 1596.2 567.8 1597.7 567.3 C1599.2 566.8 1600.6 566.8 1602.0 566.6 C1603.4 566.5 1604.6 566.8 1606.1 566.4 C1607.6 566.0 1609.1 564.7 1610.8 564.2 C1612.5 563.7 1614.3 563.6 1616.1 563.3 C1617.8 563.0 1619.9 562.9 1621.3 562.4 C1622.7 561.9 1623.2 560.1 1624.5 560.3 C1625.8 560.5 1627.6 563.4 1629.2 563.8 C1630.8 564.2 1632.6 562.8 1634.1 562.9 C1635.5 563.0 1636.4 563.8 1637.9 564.1 C1639.4 564.4 1641.5 563.7 1643.1 564.5 C1644.7 565.3 1646.1 568.9 1647.6 569.1 C1649.1 569.3 1650.3 565.9 1651.9 565.5 C1653.5 565.1 1655.4 566.4 1657.0 566.6 C1658.6 566.8 1660.2 566.4 1661.7 566.6 C1663.2 566.8 1664.5 567.7 1665.8 567.7 C1667.1 567.7 1668.3 566.5 1669.7 566.4 C1671.1 566.3 1672.8 568.2 1674.3 567.4 C1675.8 566.5 1677.7 562.0 1678.7 561.3 C1679.7 560.5 1680.1 562.6 1680.4 562.9"/></defs><use href="#c3" stroke-width="5.4" stroke-opacity="0.2"/><use href="#c3" stroke-width="3.4"/></g>
<g stroke="#863a94"><defs><path id="c4" d="M496.5 913.6 L497.7 155.4 L566.7 155.4 C567.9 155.8 571.8 156.7 574.0 158.0 C576.2 159.3 577.3 159.6 580.0 163.3 C582.7 167.0 586.7 172.8 590.0 180.0 C593.3 187.2 596.7 197.2 600.0 206.7 C603.3 216.1 606.7 226.1 610.0 236.7 C613.3 247.2 616.7 258.3 620.0 270.0 C623.3 281.7 626.7 294.5 630.0 306.7 C633.3 318.9 636.7 331.6 640.0 343.3 C643.3 355.0 646.7 366.1 650.0 376.7 C653.3 387.3 656.7 397.8 660.0 406.7 C663.3 415.6 666.4 421.1 670.0 430.0 C673.6 438.9 679.1 454.3 681.7 460.0 C684.3 465.7 684.2 462.7 685.4 464.0 C686.6 465.3 687.8 466.9 689.0 468.0 C690.2 469.1 691.6 469.8 692.9 470.5 C694.2 471.2 695.4 471.5 696.7 472.0 C698.0 472.5 699.2 472.8 700.5 473.5 C701.8 474.2 703.0 475.6 704.2 476.4 C705.5 477.1 706.6 477.0 708.0 478.0 C709.4 479.0 710.9 481.2 712.4 482.4 C713.9 483.6 715.3 484.0 716.7 485.0 C718.1 486.0 719.5 487.1 720.9 488.3 C722.3 489.5 723.6 491.6 725.0 492.4 C726.4 493.2 727.7 492.2 729.1 492.9 C730.5 493.6 732.0 495.4 733.3 496.7 C734.6 497.9 735.8 499.2 737.1 500.4 C738.4 501.6 739.6 502.8 741.0 504.0 C742.4 505.2 744.0 506.3 745.5 507.9 C747.0 509.4 748.6 511.9 750.0 513.3 C751.4 514.7 752.7 515.0 754.0 516.1 C755.3 517.2 756.7 518.9 758.0 520.2 C759.3 521.5 760.7 523.2 762.0 524.0 C763.3 524.8 764.7 524.5 766.0 524.7 C767.3 524.9 768.5 524.4 770.0 525.0 C771.5 525.6 773.3 527.4 775.0 528.4 C776.7 529.4 778.4 530.0 780.0 531.0 C781.6 532.0 783.2 532.9 784.7 534.2 C786.2 535.5 787.8 537.8 789.3 538.6 C790.8 539.4 792.5 538.2 794.0 539.0 C795.5 539.8 796.7 542.5 798.0 543.5 C799.3 544.5 800.7 543.6 802.0 544.7 C803.3 545.8 804.5 549.0 806.0 550.0 C807.5 551.0 809.3 550.5 811.0 550.7 C812.7 550.9 814.5 550.7 816.0 551.0 C817.5 551.3 818.7 551.7 820.0 552.4 C821.3 553.1 822.7 554.8 824.0 555.0 C825.3 555.2 826.7 553.6 828.0 553.5 C829.3 553.4 830.7 554.5 832.0 554.3 C833.3 554.0 834.5 552.6 836.0 552.0 C837.5 551.4 839.2 551.5 840.7 550.8 C842.2 550.1 843.8 548.3 845.3 548.0 C846.8 547.7 848.4 548.5 850.0 549.0 C851.6 549.5 853.3 550.6 855.0 551.3 C856.7 552.0 858.2 552.7 860.0 553.0 C861.8 553.3 864.2 551.5 866.0 553.0 C867.8 554.5 869.4 560.9 871.0 562.0 C872.6 563.1 874.0 560.4 875.5 559.7 C877.0 559.0 878.6 558.7 880.0 558.0 C881.4 557.3 882.7 556.2 884.0 555.6 C885.3 555.0 886.7 554.9 888.0 554.6 C889.3 554.3 890.7 553.9 892.0 553.6 C893.3 553.3 894.7 552.7 896.0 553.0 C897.3 553.3 898.5 555.3 900.0 555.6 C901.5 555.9 903.5 555.0 905.2 554.7 C906.9 554.4 908.9 553.6 910.4 553.8 C911.9 554.0 913.1 555.1 914.5 556.0 C915.9 556.9 917.1 558.7 918.5 559.0 C919.9 559.3 921.6 558.1 923.1 557.6 C924.6 557.1 926.4 555.5 927.8 556.0 C929.2 556.5 930.1 559.6 931.3 560.5 C932.5 561.4 933.4 561.3 934.8 561.4 C936.1 561.5 937.8 561.1 939.4 561.1 C941.0 561.1 942.5 561.3 944.1 561.5 C945.7 561.7 947.2 562.0 948.7 562.5 C950.2 563.0 951.9 564.1 953.4 564.3 C954.9 564.5 956.5 564.0 958.0 563.7 C959.5 563.4 961.1 562.6 962.6 562.7 C964.1 562.9 965.7 564.8 967.2 564.6 C968.8 564.4 970.4 561.9 971.9 561.6 C973.4 561.3 975.1 562.9 976.5 562.6 C977.9 562.3 979.1 560.4 980.5 559.8 C981.9 559.2 983.2 559.5 984.6 559.0 C986.0 558.5 987.4 557.1 988.7 556.5 C990.1 555.9 991.4 556.3 992.7 555.6 C994.1 554.9 995.4 553.2 996.8 552.4 C998.1 551.5 999.5 549.6 1000.8 550.5 C1002.0 551.4 1002.6 556.2 1004.3 558.0 C1006.0 559.8 1009.1 560.5 1011.0 561.4 C1012.9 562.3 1014.2 562.8 1015.7 563.4 C1017.2 564.0 1018.8 564.8 1020.3 565.2 C1021.8 565.6 1023.4 566.0 1025.0 566.0 C1026.6 566.0 1028.1 565.4 1029.7 565.0 C1031.3 564.6 1032.9 563.5 1034.4 563.7 C1035.9 563.9 1037.2 565.3 1038.5 566.3 C1039.8 567.3 1041.0 569.0 1042.5 569.5 C1044.0 570.0 1046.0 569.7 1047.8 569.1 C1049.5 568.5 1051.4 566.6 1053.0 566.0 C1054.6 565.4 1056.0 565.9 1057.6 565.6 C1059.1 565.3 1060.8 564.5 1062.3 564.2 C1063.8 563.9 1065.5 563.5 1066.9 563.7 C1068.3 563.9 1069.6 565.2 1070.9 565.2 C1072.2 565.2 1073.7 563.5 1075.0 563.4 C1076.3 563.3 1077.7 564.5 1079.0 564.8 C1080.3 565.1 1081.5 565.1 1083.0 565.0 C1084.5 564.9 1086.1 564.5 1087.7 563.9 C1089.3 563.3 1090.9 561.9 1092.4 561.4 C1094.0 560.9 1095.5 561.0 1097.0 560.8 C1098.5 560.6 1100.1 560.2 1101.6 560.3 C1103.1 560.4 1104.7 560.8 1106.2 561.4 C1107.8 562.0 1109.5 563.6 1110.9 563.7 C1112.3 563.8 1113.5 562.6 1114.8 561.8 C1116.1 560.9 1117.3 559.4 1118.6 558.6 C1119.9 557.8 1121.1 557.1 1122.5 556.8 C1123.9 556.5 1125.6 556.6 1127.1 556.8 C1128.6 557.0 1130.2 557.5 1131.7 558.0 C1133.2 558.5 1134.8 558.8 1136.3 559.8 C1137.8 560.8 1139.6 562.6 1141.0 563.7 C1142.4 564.8 1143.6 565.9 1144.9 566.2 C1146.2 566.5 1147.4 565.3 1148.7 565.5 C1150.0 565.7 1151.2 566.2 1152.6 567.2 C1154.0 568.2 1155.7 570.3 1157.2 571.3 C1158.8 572.3 1160.5 572.9 1161.9 573.0 C1163.3 573.1 1164.5 572.3 1165.8 571.8 C1167.1 571.2 1168.3 570.3 1169.6 569.7 C1170.9 569.1 1172.2 568.8 1173.5 568.4 C1174.8 568.0 1176.0 568.0 1177.3 567.5 C1178.6 567.0 1179.9 566.1 1181.2 565.5 C1182.5 564.9 1183.6 564.1 1185.0 563.7 C1186.4 563.3 1188.2 563.6 1189.7 563.1 C1191.2 562.6 1192.8 561.1 1194.3 560.8 C1195.8 560.5 1197.5 561.5 1199.0 561.4 C1200.5 561.3 1202.0 560.5 1203.6 560.3 C1205.1 560.1 1206.8 560.4 1208.3 560.0 C1209.8 559.6 1211.4 558.2 1212.9 558.0 C1214.4 557.8 1216.0 558.8 1217.5 559.0 C1219.0 559.2 1220.5 558.3 1222.1 559.0 C1223.6 559.7 1225.2 562.0 1226.8 563.0 C1228.3 564.0 1230.0 564.3 1231.4 565.0 C1232.9 565.7 1234.2 566.8 1235.5 567.0 C1236.8 567.2 1238.2 566.2 1239.5 566.5 C1240.8 566.8 1242.2 568.5 1243.5 568.6 C1244.8 568.7 1246.2 567.2 1247.6 567.2 C1249.0 567.2 1250.3 567.6 1251.7 568.6 C1253.1 569.6 1254.2 572.5 1255.7 573.0 C1257.2 573.5 1259.0 572.4 1260.7 571.6 C1262.4 570.8 1264.1 568.5 1265.8 568.1 C1267.5 567.8 1269.3 569.5 1270.8 569.5 C1272.3 569.5 1273.4 569.0 1274.7 568.4 C1276.0 567.8 1277.2 566.5 1278.5 565.7 C1279.8 564.9 1281.1 563.9 1282.4 563.7 C1283.7 563.5 1285.0 564.7 1286.3 564.3 C1287.6 563.9 1288.8 561.8 1290.1 561.1 C1291.4 560.4 1292.4 560.5 1294.0 560.3 C1295.6 560.0 1297.7 559.1 1299.5 559.6 C1301.3 560.1 1303.2 562.0 1305.0 563.0 C1306.8 564.0 1308.7 565.3 1310.5 565.8 C1312.3 566.3 1314.3 565.9 1316.0 566.0 C1317.7 566.1 1318.9 565.8 1320.4 566.4 C1321.9 567.0 1323.1 569.6 1324.8 569.5 C1326.5 569.4 1328.5 566.8 1330.4 566.0 C1332.3 565.2 1334.3 565.3 1336.0 565.0 C1337.7 564.7 1339.2 564.3 1340.7 564.2 C1342.2 564.1 1343.8 564.5 1345.3 564.3 C1346.8 564.1 1348.5 562.9 1350.0 563.0 C1351.5 563.1 1352.7 564.2 1354.2 564.7 C1355.7 565.2 1357.8 566.1 1359.2 566.3 C1360.6 566.5 1361.3 566.4 1362.4 565.9 C1363.5 565.4 1364.6 563.6 1365.9 563.4 C1367.2 563.2 1369.0 564.5 1370.5 564.8 C1372.0 565.1 1373.5 565.2 1375.1 565.0 C1376.7 564.8 1378.6 562.9 1380.0 563.4 C1381.4 563.9 1382.2 568.2 1383.3 567.8 C1384.4 567.4 1385.5 561.9 1386.6 561.1 C1387.7 560.4 1388.5 562.6 1389.9 563.3 C1391.3 564.0 1393.5 564.6 1394.9 565.1 C1396.4 565.6 1397.2 566.2 1398.6 566.3 C1400.0 566.4 1401.9 566.5 1403.5 565.7 C1405.1 564.9 1406.7 562.5 1408.1 561.4 C1409.5 560.3 1410.6 559.6 1412.0 559.4 C1413.4 559.2 1415.0 560.5 1416.4 560.2 C1417.8 560.0 1419.2 558.6 1420.5 557.9 C1421.8 557.2 1423.1 555.6 1424.3 556.0 C1425.5 556.4 1426.5 559.9 1427.6 560.3 C1428.7 560.6 1429.5 558.1 1430.8 558.1 C1432.0 558.1 1433.8 559.6 1435.1 560.5 C1436.4 561.4 1437.2 563.2 1438.6 563.7 C1440.0 564.2 1442.0 563.2 1443.5 563.5 C1445.0 563.8 1446.3 564.7 1447.6 565.6 C1448.8 566.5 1449.6 568.9 1451.0 569.0 C1452.4 569.1 1454.3 566.7 1455.9 566.2 C1457.5 565.7 1459.0 566.8 1460.4 566.2 C1461.8 565.6 1462.9 563.5 1464.1 562.4 C1465.3 561.3 1466.5 559.9 1467.7 559.7 C1468.9 559.5 1470.2 561.1 1471.4 561.4 C1472.6 561.7 1473.4 561.4 1474.7 561.4 C1476.0 561.4 1477.7 560.6 1479.1 561.1 C1480.5 561.6 1481.6 563.9 1482.9 564.4 C1484.2 564.9 1485.9 564.3 1487.2 564.2 C1488.5 564.1 1489.6 563.5 1490.8 563.6 C1492.0 563.7 1492.8 563.9 1494.2 564.7 C1495.6 565.5 1497.6 567.3 1499.2 568.2 C1500.8 569.1 1502.4 569.4 1504.0 570.1 C1505.6 570.8 1507.4 572.1 1508.9 572.3 C1510.4 572.5 1511.8 571.1 1513.2 571.2 C1514.6 571.3 1515.9 572.7 1517.2 573.0 C1518.5 573.3 1519.6 573.0 1520.9 573.0 C1522.2 573.0 1523.7 573.4 1525.1 573.0 C1526.5 572.6 1527.8 571.6 1529.3 570.8 C1530.8 570.0 1532.8 568.3 1534.4 568.3 C1536.1 568.3 1537.6 571.3 1539.2 571.0 C1540.8 570.7 1542.6 567.9 1544.0 566.4 C1545.4 564.9 1546.5 562.1 1547.6 561.9 C1548.7 561.7 1549.6 564.6 1550.7 565.4 C1551.8 566.2 1553.2 566.1 1554.3 566.5 C1555.4 566.9 1556.3 568.2 1557.5 568.0 C1558.7 567.8 1560.4 565.8 1561.7 565.1 C1563.0 564.4 1563.8 564.3 1565.1 563.8 C1566.4 563.3 1568.2 561.6 1569.7 562.0 C1571.2 562.4 1572.5 565.2 1574.1 566.0 C1575.6 566.8 1577.6 566.7 1579.0 566.8 C1580.4 566.9 1581.1 567.3 1582.4 566.6 C1583.7 565.9 1585.4 562.6 1586.7 562.4 C1588.0 562.1 1588.8 564.9 1590.2 565.1 C1591.6 565.3 1593.8 563.5 1595.2 563.6 C1596.7 563.7 1597.6 566.0 1598.9 565.8 C1600.2 565.6 1601.7 562.3 1602.9 562.3 C1604.2 562.3 1605.0 565.3 1606.4 565.9 C1607.8 566.5 1609.8 566.1 1611.4 565.8 C1613.0 565.4 1614.6 564.0 1616.0 563.8 C1617.4 563.6 1618.7 563.7 1620.0 564.6 C1621.3 565.5 1622.4 569.0 1623.7 569.3 C1625.0 569.6 1626.7 566.5 1627.9 566.4 C1629.1 566.3 1630.0 567.4 1631.1 568.5 C1632.2 569.6 1633.1 572.5 1634.3 573.0 C1635.5 573.5 1637.1 571.2 1638.4 571.2 C1639.7 571.2 1640.8 572.4 1642.2 572.7 C1643.6 573.0 1645.1 573.0 1646.7 573.0 C1648.3 573.0 1650.3 573.6 1651.7 572.9 C1653.1 572.2 1653.6 570.2 1654.9 568.9 C1656.2 567.6 1657.9 565.9 1659.4 565.2 C1660.9 564.5 1662.4 564.8 1664.0 564.7 C1665.6 564.6 1667.5 564.4 1668.8 564.4 C1670.1 564.4 1670.9 565.2 1672.1 565.0 C1673.3 564.8 1674.4 563.2 1675.8 563.1 C1677.2 563.0 1679.6 563.9 1680.4 564.1"/></defs><use href="#c4" stroke-width="5.4" stroke-opacity="0.2"/><use href="#c4" stroke-width="3.4"/></g>
<g stroke="#86b245"><defs><path id="c5" d="M750.5 913.6 L752.0 155.4 L866.7 155.4 C868.9 156.2 876.1 158.1 880.0 160.0 C883.9 161.9 886.7 163.6 890.0 166.7 C893.3 169.8 896.7 173.9 900.0 178.3 C903.3 182.7 906.7 188.0 910.0 193.3 C913.3 198.6 916.7 203.9 920.0 210.0 C923.3 216.1 926.7 223.1 930.0 230.0 C933.3 236.9 936.7 244.5 940.0 251.7 C943.3 258.9 946.7 266.1 950.0 273.3 C953.3 280.5 957.5 290.1 960.0 295.0 C962.5 299.9 963.3 299.9 965.0 303.0 C966.7 306.1 968.3 310.4 970.0 313.3 C971.7 316.2 973.3 317.7 975.0 320.5 C976.7 323.3 978.3 326.9 980.0 330.0 C981.7 333.1 983.3 336.2 985.0 339.0 C986.7 341.8 988.3 344.6 990.0 346.7 C991.7 348.8 993.3 349.4 995.0 351.9 C996.7 354.4 998.3 358.7 1000.0 361.7 C1001.7 364.7 1003.3 367.1 1005.0 369.9 C1006.7 372.7 1008.3 376.0 1010.0 378.3 C1011.7 380.6 1013.3 381.0 1015.0 383.5 C1016.7 386.0 1018.4 390.7 1020.0 393.3 C1021.6 395.9 1022.9 397.7 1024.4 399.4 C1025.9 401.1 1027.4 402.0 1028.9 403.5 C1030.4 405.0 1031.9 406.6 1033.3 408.3 C1034.7 410.0 1036.1 412.5 1037.5 413.8 C1038.9 415.1 1040.3 414.9 1041.7 416.1 C1043.1 417.3 1044.4 419.7 1045.8 421.2 C1047.2 422.7 1048.6 423.6 1050.0 425.0 C1051.4 426.4 1052.8 427.9 1054.2 429.3 C1055.6 430.7 1056.9 431.8 1058.3 433.4 C1059.7 435.0 1061.1 437.2 1062.5 438.9 C1063.9 440.5 1065.3 441.9 1066.7 443.3 C1068.1 444.7 1069.4 445.8 1070.8 447.5 C1072.2 449.2 1073.6 451.7 1075.0 453.8 C1076.4 455.9 1077.8 458.4 1079.2 460.3 C1080.6 462.2 1081.8 463.4 1083.3 465.0 C1084.8 466.6 1086.6 468.5 1088.3 470.1 C1090.0 471.7 1091.6 472.6 1093.3 474.6 C1095.0 476.6 1096.6 480.5 1098.3 482.2 C1100.0 483.9 1101.6 484.1 1103.3 485.0 C1105.0 485.9 1106.6 486.9 1108.3 487.6 C1110.0 488.3 1111.6 488.5 1113.3 489.4 C1115.0 490.2 1116.6 491.8 1118.3 492.7 C1120.0 493.6 1121.7 494.1 1123.3 495.0 C1124.9 495.9 1126.3 496.8 1127.8 497.8 C1129.3 498.9 1130.7 500.1 1132.2 501.3 C1133.7 502.5 1135.3 503.8 1136.7 505.0 C1138.1 506.2 1139.2 507.1 1140.5 508.8 C1141.8 510.5 1143.0 513.9 1144.2 515.3 C1145.5 516.7 1146.7 516.6 1148.0 517.4 C1149.3 518.2 1150.7 519.1 1152.0 520.0 C1153.3 520.9 1154.7 521.8 1156.1 522.8 C1157.5 523.8 1158.8 525.1 1160.2 525.9 C1161.6 526.7 1162.9 527.1 1164.2 527.8 C1165.5 528.5 1166.8 530.1 1168.1 530.2 C1169.4 530.3 1170.6 528.6 1171.9 528.4 C1173.2 528.2 1174.5 529.2 1175.8 529.0 C1177.1 528.8 1178.4 527.0 1179.8 526.9 C1181.2 526.8 1182.5 529.2 1183.9 528.6 C1185.3 528.0 1186.7 524.1 1188.0 523.2 C1189.3 522.3 1190.8 522.8 1192.0 523.2 C1193.2 523.6 1194.3 524.7 1195.5 525.7 C1196.7 526.7 1197.8 528.3 1199.0 529.0 C1200.2 529.7 1201.5 529.3 1202.8 529.7 C1204.1 530.1 1205.4 531.4 1206.7 531.3 C1208.0 531.2 1209.2 529.4 1210.5 529.0 C1211.8 528.6 1213.1 529.2 1214.4 529.2 C1215.7 529.2 1216.9 528.3 1218.2 528.8 C1219.5 529.3 1220.7 531.1 1222.1 532.4 C1223.5 533.7 1225.2 535.5 1226.7 536.6 C1228.2 537.7 1229.9 537.9 1231.4 538.9 C1233.0 539.9 1234.4 541.8 1236.0 542.9 C1237.6 544.0 1239.3 544.6 1240.9 545.7 C1242.5 546.8 1244.2 548.6 1245.8 549.7 C1247.4 550.9 1249.1 551.6 1250.8 552.6 C1252.5 553.6 1254.0 555.3 1255.7 555.6 C1257.4 555.9 1259.0 555.0 1260.7 554.4 C1262.4 553.8 1264.1 552.7 1265.8 552.1 C1267.5 551.5 1269.0 551.0 1270.8 551.0 C1272.6 551.0 1274.9 552.3 1276.6 552.1 C1278.2 551.9 1279.3 551.0 1280.7 549.9 C1282.1 548.8 1283.2 545.4 1284.7 545.2 C1286.2 545.0 1288.5 547.7 1290.0 548.7 C1291.5 549.7 1292.6 550.9 1293.9 551.3 C1295.2 551.7 1296.4 550.9 1297.7 551.0 C1299.0 551.1 1300.3 552.1 1301.6 552.1 C1302.9 552.1 1304.2 551.3 1305.5 551.3 C1306.8 551.3 1308.0 552.1 1309.3 552.1 C1310.6 552.1 1311.9 551.0 1313.2 551.0 C1314.5 551.0 1315.8 552.1 1317.1 552.2 C1318.4 552.3 1319.6 551.3 1320.9 551.5 C1322.2 551.7 1323.4 553.0 1324.8 553.3 C1326.2 553.6 1327.9 552.9 1329.4 553.2 C1331.0 553.5 1332.5 554.9 1334.1 555.1 C1335.6 555.3 1337.3 554.2 1338.7 554.5 C1340.1 554.8 1341.1 556.0 1342.2 556.7 C1343.3 557.5 1344.3 558.6 1345.6 559.0 C1346.9 559.4 1348.7 558.9 1350.2 559.1 C1351.8 559.3 1353.4 559.9 1354.9 560.1 C1356.5 560.3 1358.0 560.4 1359.5 560.3 C1361.0 560.2 1362.5 559.9 1364.1 559.7 C1365.6 559.5 1367.2 559.6 1368.8 559.1 C1370.3 558.6 1371.9 556.8 1373.4 556.6 C1374.9 556.4 1376.6 557.6 1378.0 558.0 C1379.4 558.4 1380.6 559.1 1381.9 558.9 C1383.2 558.7 1384.5 557.1 1385.8 556.6 C1387.1 556.1 1388.4 555.8 1389.7 555.6 C1391.0 555.4 1392.2 555.1 1393.5 555.5 C1394.8 555.9 1396.1 557.8 1397.4 558.2 C1398.7 558.6 1399.8 558.0 1401.2 558.0 C1402.6 558.0 1404.2 558.0 1405.8 557.9 C1407.3 557.8 1409.0 557.4 1410.5 557.2 C1412.0 557.0 1413.7 556.4 1415.1 556.8 C1416.5 557.2 1417.7 558.5 1419.0 559.4 C1420.3 560.3 1421.5 561.8 1422.8 562.1 C1424.1 562.4 1425.3 561.2 1426.7 561.4 C1428.1 561.6 1429.8 562.7 1431.3 563.5 C1432.8 564.3 1434.5 565.7 1436.0 566.1 C1437.5 566.5 1439.1 565.9 1440.6 566.0 C1442.1 566.1 1443.7 567.3 1445.2 566.6 C1446.8 565.9 1448.4 562.8 1449.9 561.9 C1451.5 561.0 1453.0 561.6 1454.5 561.4 C1456.0 561.2 1457.2 560.8 1458.6 560.9 C1460.0 561.0 1461.3 562.4 1462.7 562.2 C1464.1 562.0 1465.4 559.8 1466.7 559.7 C1468.0 559.6 1469.5 561.1 1470.8 561.4 C1472.1 561.7 1473.4 561.1 1474.8 561.4 C1476.2 561.7 1477.5 563.0 1478.9 563.3 C1480.3 563.6 1481.7 563.4 1483.0 563.3 C1484.3 563.2 1485.7 562.6 1487.0 562.6 C1488.3 562.6 1489.6 563.7 1490.9 563.5 C1492.2 563.3 1493.4 561.4 1494.7 561.4 C1496.0 561.4 1497.3 563.1 1498.6 563.7 C1499.9 564.4 1501.2 565.5 1502.5 565.3 C1503.8 565.1 1505.0 563.4 1506.3 562.7 C1507.6 562.1 1508.9 561.7 1510.2 561.4 C1511.5 561.1 1512.7 561.3 1514.0 561.0 C1515.3 560.7 1516.6 560.1 1517.9 559.6 C1519.2 559.1 1520.4 558.4 1521.7 558.0 C1523.0 557.6 1524.3 557.3 1525.6 557.4 C1526.9 557.5 1528.1 558.1 1529.4 558.8 C1530.7 559.5 1532.0 561.0 1533.3 561.4 C1534.6 561.8 1535.9 560.4 1537.2 561.0 C1538.5 561.6 1539.7 564.4 1541.0 564.9 C1542.3 565.4 1543.5 564.0 1544.9 563.7 C1546.3 563.4 1548.0 563.1 1549.6 563.2 C1551.1 563.3 1552.7 563.9 1554.2 564.1 C1555.7 564.3 1557.2 564.2 1558.8 564.4 C1560.3 564.5 1562.0 564.7 1563.5 565.0 C1565.0 565.3 1566.2 565.8 1567.5 566.1 C1568.8 566.4 1570.2 566.5 1571.6 566.6 C1573.0 566.7 1574.3 566.8 1575.7 566.9 C1577.1 567.0 1578.4 567.4 1579.7 567.2 C1581.0 567.0 1582.3 566.4 1583.6 565.9 C1584.9 565.4 1586.1 563.9 1587.4 564.1 C1588.7 564.3 1589.9 567.1 1591.3 567.2 C1592.7 567.3 1594.4 565.5 1595.9 564.5 C1597.4 563.5 1599.0 561.8 1600.5 561.4 C1602.0 561.0 1603.5 561.9 1605.1 562.4 C1606.6 562.9 1608.2 564.0 1609.8 564.2 C1611.3 564.4 1613.0 563.7 1614.4 563.7 C1615.8 563.7 1617.0 564.0 1618.3 564.0 C1619.6 564.0 1620.8 563.8 1622.1 564.0 C1623.4 564.2 1624.7 564.8 1626.0 565.0 C1627.3 565.2 1628.6 565.4 1629.9 565.0 C1631.2 564.6 1632.4 562.8 1633.7 562.6 C1635.0 562.4 1636.3 563.8 1637.6 563.7 C1638.9 563.6 1640.2 562.3 1641.5 561.9 C1642.8 561.5 1644.0 561.3 1645.3 561.2 C1646.6 561.1 1647.9 561.2 1649.2 561.4 C1650.5 561.5 1651.8 561.6 1653.1 562.1 C1654.4 562.6 1655.6 564.2 1656.9 564.3 C1658.2 564.4 1659.5 562.6 1660.8 562.6 C1662.1 562.6 1663.4 563.9 1664.7 564.5 C1666.0 565.1 1667.2 565.8 1668.5 566.0 C1669.8 566.2 1671.1 566.0 1672.4 566.0 C1673.7 566.0 1675.1 566.2 1676.4 566.2 C1677.7 566.2 1679.7 566.0 1680.4 566.0"/></defs><use href="#c5" stroke-width="5.4" stroke-opacity="0.2"/><use href="#c5" stroke-width="3.4"/></g>
<g stroke="#42bbe8"><defs><path id="c6" d="M161.5 570.0 L181.7 570.0 L187.0 566.0 L193.3 561.7 L200.0 559.0 L206.7 556.7 L213.0 558.5 L220.0 560.0 L230.0 560.0 L235.0 564.0 L238.3 568.3 L244.3 568.3 L245.3 913.6 L1004.3 913.6 L1005.0 155.4 L1156.7 155.4 C1158.9 156.1 1166.1 157.7 1170.0 159.3 C1173.9 160.9 1176.7 162.7 1180.0 165.0 C1183.3 167.3 1186.7 170.2 1190.0 173.3 C1193.3 176.4 1196.7 179.7 1200.0 183.3 C1203.3 186.9 1206.7 191.1 1210.0 195.0 C1213.3 198.9 1216.7 202.5 1220.0 206.7 C1223.3 210.9 1226.7 215.3 1230.0 220.0 C1233.3 224.7 1237.5 231.2 1240.0 235.0 C1242.5 238.8 1243.3 240.3 1245.0 242.8 C1246.7 245.3 1248.4 247.7 1250.0 250.0 C1251.6 252.3 1253.2 254.2 1254.8 256.7 C1256.4 259.2 1257.9 262.3 1259.5 265.1 C1261.1 267.9 1262.8 271.0 1264.3 273.3 C1265.8 275.6 1267.1 277.1 1268.5 279.2 C1269.9 281.3 1271.3 283.9 1272.7 285.9 C1274.1 287.8 1275.4 289.1 1276.8 290.9 C1278.2 292.7 1279.6 294.9 1281.0 296.7 C1282.4 298.5 1283.8 299.5 1285.2 301.5 C1286.6 303.5 1287.9 306.5 1289.3 308.5 C1290.7 310.5 1292.1 311.6 1293.5 313.5 C1294.9 315.4 1296.3 318.0 1297.7 320.0 C1299.1 322.0 1300.6 324.1 1302.1 325.7 C1303.6 327.3 1305.1 328.2 1306.6 329.8 C1308.1 331.4 1309.4 332.4 1311.0 335.0 C1312.6 337.6 1314.3 342.1 1316.0 345.2 C1317.7 348.2 1319.5 351.2 1321.0 353.3 C1322.5 355.4 1323.8 356.4 1325.2 357.8 C1326.6 359.2 1327.9 360.5 1329.3 361.9 C1330.7 363.3 1332.1 364.6 1333.5 366.2 C1334.9 367.8 1336.3 370.1 1337.7 371.7 C1339.1 373.3 1340.4 374.2 1341.8 375.6 C1343.2 377.0 1344.6 378.8 1346.0 380.3 C1347.4 381.9 1348.8 383.6 1350.2 384.9 C1351.6 386.2 1352.9 386.7 1354.3 388.3 C1355.7 389.9 1357.3 392.6 1358.8 394.6 C1360.3 396.6 1361.7 398.1 1363.2 400.1 C1364.7 402.1 1366.3 404.9 1367.7 406.7 C1369.1 408.5 1370.4 410.0 1371.8 411.2 C1373.2 412.4 1374.6 412.7 1376.0 414.1 C1377.4 415.5 1378.8 418.0 1380.2 419.5 C1381.6 421.0 1382.8 421.8 1384.3 423.3 C1385.8 424.8 1387.6 426.5 1389.3 428.6 C1391.0 430.7 1392.6 433.8 1394.3 435.8 C1396.0 437.8 1397.6 439.3 1399.3 440.7 C1401.0 442.1 1402.6 443.3 1404.3 444.4 C1406.0 445.5 1407.6 446.2 1409.3 447.1 C1411.0 448.0 1412.7 448.9 1414.3 450.0 C1415.9 451.1 1417.3 452.3 1418.8 453.8 C1420.3 455.3 1421.7 457.6 1423.2 459.2 C1424.7 460.8 1426.2 461.8 1427.7 463.3 C1429.2 464.8 1430.6 466.6 1432.1 468.0 C1433.6 469.4 1435.1 470.4 1436.6 471.9 C1438.1 473.3 1439.4 475.3 1441.0 476.7 C1442.6 478.1 1444.3 478.7 1446.0 480.1 C1447.7 481.5 1449.3 483.7 1451.0 485.0 C1452.7 486.3 1454.3 486.6 1456.0 487.7 C1457.7 488.8 1459.4 490.6 1461.0 491.7 C1462.6 492.8 1464.2 493.2 1465.8 494.0 C1467.4 494.8 1468.9 496.2 1470.5 496.7 C1472.1 497.2 1473.6 496.4 1475.2 497.0 C1476.8 497.6 1478.4 498.9 1480.0 500.0 C1481.6 501.1 1483.2 502.8 1484.7 503.8 C1486.2 504.8 1487.8 505.3 1489.3 506.0 C1490.8 506.7 1492.6 507.8 1494.0 508.1 C1495.4 508.4 1496.5 507.9 1497.8 507.9 C1499.1 507.9 1500.4 507.9 1501.7 508.0 C1503.0 508.1 1504.2 508.4 1505.5 508.8 C1506.8 509.2 1508.1 509.6 1509.4 510.5 C1510.7 511.4 1511.9 513.3 1513.2 514.3 C1514.5 515.2 1515.8 515.8 1517.1 516.2 C1518.4 516.6 1519.9 515.9 1521.3 516.6 C1522.7 517.3 1524.2 519.7 1525.6 520.6 C1527.0 521.5 1528.4 521.6 1529.8 522.1 C1531.2 522.6 1532.7 522.9 1534.1 523.5 C1535.5 524.1 1536.9 524.9 1538.3 525.6 C1539.7 526.3 1541.2 527.4 1542.6 527.8 C1544.0 528.2 1545.2 527.8 1546.6 527.9 C1547.9 528.0 1549.3 528.1 1550.7 528.3 C1552.1 528.5 1553.5 529.1 1554.8 529.2 C1556.1 529.3 1557.4 528.7 1558.8 529.0 C1560.2 529.3 1561.9 529.9 1563.4 530.8 C1565.0 531.7 1566.5 533.4 1568.1 534.3 C1569.6 535.1 1571.2 535.2 1572.7 535.9 C1574.2 536.6 1575.5 537.8 1576.8 538.4 C1578.1 539.0 1579.4 538.9 1580.8 539.5 C1582.2 540.1 1583.5 541.2 1584.9 541.9 C1586.3 542.5 1587.7 543.2 1589.0 543.4 C1590.3 543.6 1591.5 543.2 1592.8 543.3 C1594.1 543.4 1595.3 543.9 1596.6 544.0 C1597.9 544.1 1599.1 544.2 1600.4 544.2 C1601.8 544.2 1603.2 543.8 1604.7 543.8 C1606.2 543.8 1607.6 544.3 1609.1 544.0 C1610.5 543.7 1612.0 542.5 1613.4 542.1 C1614.8 541.7 1616.2 541.5 1617.7 541.5 C1619.2 541.5 1621.0 541.7 1622.7 541.8 C1624.4 541.9 1626.1 542.2 1627.8 542.3 C1629.5 542.4 1631.1 542.3 1632.8 542.6 C1634.5 542.9 1636.1 543.7 1637.8 544.1 C1639.5 544.5 1641.2 544.6 1642.9 545.2 C1644.6 545.8 1646.4 546.6 1647.9 547.5 C1649.5 548.4 1650.8 549.8 1652.2 550.5 C1653.6 551.2 1655.1 551.7 1656.5 551.7 C1657.9 551.7 1659.3 550.8 1660.8 550.7 C1662.2 550.6 1663.8 551.0 1665.2 551.3 C1666.7 551.6 1667.9 552.5 1669.5 552.7 C1671.1 552.9 1673.2 552.5 1675.0 552.5 C1676.8 552.5 1679.5 552.9 1680.4 553.0"/></defs><use href="#c6" stroke-width="5.4" stroke-opacity="0.2"/><use href="#c6" stroke-width="3.4"/></g>
<g stroke="#38b0cc"><defs><path id="c7" d="M161.5 570.0 L181.7 570.0 L187.0 566.0 L193.3 561.7 L200.0 559.0 L206.7 556.7 L213.0 558.5 L220.0 560.0 L230.0 560.0 L235.0 564.0 L238.3 568.3 L244.3 568.3 L244.4 600.0 L245.6 911.5"/></defs><use href="#c7" stroke-width="6.6" stroke-opacity="0.2"/><use href="#c7" stroke-width="4.8"/></g>
</g>
<text x="155.4" y="992.8" class="tk">0</text>
<text x="407.5" y="992.8" class="tk">1</text>
<text x="662.5" y="992.8" class="tk">2</text>
<text x="917.0" y="992.8" class="tk">3</text>
<text x="1169.5" y="992.8" class="tk">4</text>
<text x="1426.0" y="992.8" class="tk">5</text>
<text x="1679.0" y="992.8" class="tk">6</text>
<text x="118.0" y="942.0" class="tk">0</text>
<text x="109.0" y="593.0" class="tk">1</text>
<text x="110.0" y="194.0" class="tk">2</text>
<text x="793.0" y="1038.5" class="an">Time (hour)</text>
<text transform="translate(79 647) rotate(-90)" class="an">Power (p.u.)</text>
<text x="178.0" y="275.5" class="an">5min</text>
<text x="200.5" y="159.8" class="an">15min</text>
<text x="343.0" y="125.0" class="an">30min</text>
<text x="531.0" y="131.3" class="an">60min</text>
<text x="750.3" y="131.3" class="an">120min</text>
<text x="1014.3" y="131.3" class="an">180min</text>
</svg></body></html>
